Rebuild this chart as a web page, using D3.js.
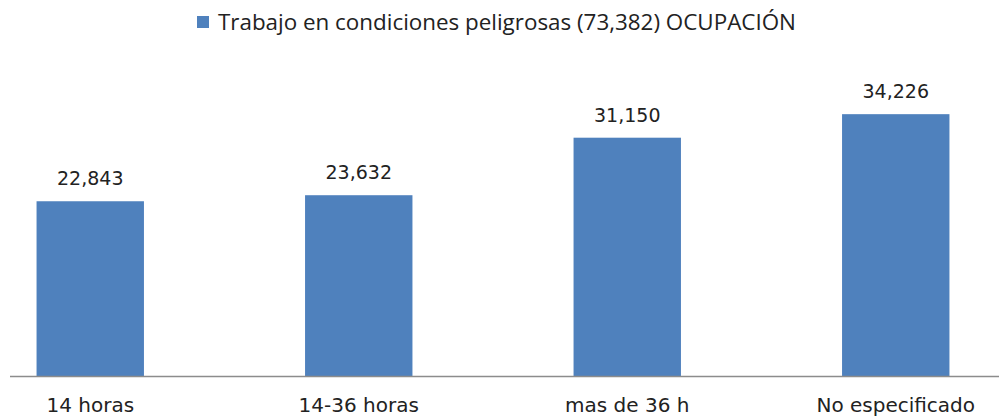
<!DOCTYPE html>
<html>
<head>
<meta charset="utf-8">
<title>Trabajo en condiciones peligrosas</title>
<style>
  body { margin: 0; background: #fff; }
  text { fill: #222; }
</style>
</head>
<body>
<script src="https://cdn.jsdelivr.net/npm/d3@7/dist/d3.min.js"></script>
<script>
  // chart data
  var categories = ["14 horas", "14-36 horas", "mas de 36 h", "No especificado"];
  var values = [22843, 23632, 31150, 34226];
  var seriesName = "Trabajo en condiciones peligrosas (73,382) OCUPACIÓN";

  var w = 999, h = 418;
  var color = "#4F81BD";

  var svg = d3.select("body").append("svg")
      .attr("width", w)
      .attr("height", h);

  // scales (plot area is cropped on the left/right like the picture)
  var x = d3.scaleBand()
      .domain(categories)
      .range([-44, 1030])
      .paddingInner(0.6)
      .paddingOuter(0.3);

  var y = d3.scaleLinear()
      .domain([0, 40000])
      .range([376, 70]);

  var data = categories.map(function(c, i) { return {cat: c, value: values[i]}; });

  // bars
  svg.append("g").attr("id", "bars")
    .selectAll("rect")
    .data(data)
    .enter()
    .append("rect")
      .attr("x", function(d) { return x(d.cat); })
      .attr("y", function(d) { return y(d.value); })
      .attr("width", x.bandwidth())
      .attr("height", function(d) { return y(0) - y(d.value); })
      .attr("fill", color);

  // value labels
  var fmt = d3.format(",");
  svg.append("g").attr("id", "labels")
    .selectAll("text")
    .data(data)
    .enter()
    .append("text")
      .attr("x", function(d) { return x(d.cat) + x.bandwidth() / 2; })
      .attr("y", function(d) { return y(d.value) - 16; })
      .attr("text-anchor", "middle")
      .style("font-family", "DejaVu Sans")
      .style("font-size", "19px")
      .text(function(d) { return fmt(d.value); });

  // x axis
  var xAxis = d3.axisBottom(x).tickSize(0).tickPadding(22);
  var gx = svg.append("g")
      .attr("id", "x_axis")
      .attr("transform", "translate(0," + y(0) + ")")
      .call(xAxis);
  gx.select(".domain").remove();
  gx.selectAll("text")
      .style("font-family", "DejaVu Sans")
      .style("font-size", "20px")
      .style("fill", "#222");

  svg.append("line")
      .attr("x1", 10).attr("x2", w)
      .attr("y1", y(0) + 0.5).attr("y2", y(0) + 0.5)
      .attr("stroke", "#8c8c8c")
      .attr("stroke-width", 1.5);

  // legend
  var legend = svg.append("g").attr("id", "legend");
  legend.append("rect")
      .attr("x", 197).attr("y", 16)
      .attr("width", 12).attr("height", 12)
      .attr("fill", color);
  var lt = legend.append("text")
      .attr("x", 218).attr("y", 30)
      .style("font-family", "Open Sans")
      .style("font-size", "18px")
      .text(seriesName);
  // fit the legend text to the width seen in the picture
  var len = lt.node().getComputedTextLength();
  lt.style("font-size", (18 * 579 / len).toFixed(1) + "px");
</script>
</body>
</html>
